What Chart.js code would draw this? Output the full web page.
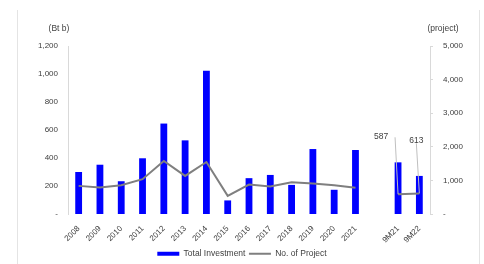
<!DOCTYPE html>
<html>
<head>
<meta charset="utf-8">
<script src="https://cdn.jsdelivr.net/npm/chart.js@4.4.1/dist/chart.umd.min.js"></script>
<style>
  html, body { margin: 0; padding: 0; background: #fff; }
  #wrap { position: relative; width: 484px; height: 264px; overflow: hidden; }
  .frame { position: absolute; top: 10px; bottom: 0; width: 1px; background: #e4e4e4; }
  #myChart { position: absolute; left: 0; top: 0; }
</style>
</head>
<body>
<div id="wrap">
  <div class="frame" style="left:17px"></div>
  <div class="frame" style="left:479px"></div>
  <canvas id="myChart" width="484" height="264"></canvas>
</div>
<script>
const periods = ['2008', '2009', '2010', '2011', '2012', '2013', '2014', '2015', '2016',
                 '2017', '2018', '2019', '2020', '2021', '', '9M21', '9M22'];
const investment = [300, 352, 234, 398, 646, 526, 1023, 97, 256,
                    279, 208, 464, 173, 457, null, 369, 272];
const projects = [837, 790, 858, 1036, 1577, 1133, 1547, 541, 875,
                  820, 947, 908, 858, 778, null, 587, 613];
const labelled = ['9M21', '9M22'];
const leftTicks = [0, 200, 400, 600, 800, 1000, 1200];
const rightTicks = [0, 1000, 2000, 3000, 4000, 5000];

const font = 'Liberation Sans';
const fmt = v => v === 0 ? '-' : v.toLocaleString('en-US');

// axis titles and the two leader-line labels
const extras = {
    id: 'extras',
    afterDatasetsDraw(chart) {
        const c = chart.ctx;
        const yL = chart.scales.y, yR = chart.scales.y1;
        c.save();
        c.fillStyle = '#404040';
        c.font = '8.5px "' + font + '"';
        c.textAlign = 'center';
        c.textBaseline = 'middle';
        c.fillText('(Bt b)', yL.right - 9, 29);
        c.fillText('(project)', yR.left + 13, 29);

        const meta = chart.getDatasetMeta(1);
        const offs = {'9M21': [-3, -57, -17, -58], '9M22': [-3, -50, -3, -53]};
        labelled.forEach(name => {
            const i = periods.indexOf(name);
            const p = meta.data[i];
            const o = offs[name];
            c.strokeStyle = '#bfbfbf';
            c.lineWidth = 1;
            c.beginPath();
            c.moveTo(p.x, p.y);
            c.lineTo(p.x + o[0], p.y + o[1]);
            c.stroke();
            c.fillStyle = '#404040';
            c.fillText(fmt(projects[i]), p.x + o[2], p.y + o[3]);
        });
        c.restore();
    }
};

const ctx = document.getElementById('myChart');
const myChart = new Chart(ctx, {
    type: 'bar',
    data: {
        labels: periods,
        datasets: [{
            label: 'Total Investment',
            data: investment,
            backgroundColor: '#0000ff',
            barPercentage: 0.32,
            categoryPercentage: 1,
            yAxisID: 'y',
            order: 1
        }, {
            type: 'line',
            label: 'No. of Project',
            data: projects,
            borderColor: '#7f7f7f',
            borderWidth: 2,
            pointRadius: 0,
            tension: 0,
            spanGaps: false,
            yAxisID: 'y1',
            order: 0
        }]
    },
    options: {
        responsive: false,
        animation: false,
        layout: { padding: { top: 46, left: 0, right: 0, bottom: -4 } },
        plugins: {
            tooltip: { enabled: false },
            legend: {
                position: 'bottom',
                labels: {
                    usePointStyle: true,
                    pointStyleWidth: 22,
                    boxHeight: 4,
                    padding: 3.5,
                    color: '#404040',
                    font: { family: font, size: 8.5 },
                    generateLabels: chart => chart.data.datasets.map((d, i) => ({
                        text: d.label,
                        fillStyle: i === 0 ? '#0000ff' : '#7f7f7f',
                        strokeStyle: i === 0 ? '#0000ff' : '#7f7f7f',
                        lineWidth: i === 0 ? 0 : 2,
                        pointStyle: i === 0 ? 'rect' : 'line',
                        fontColor: '#404040',
                        hidden: false,
                        datasetIndex: i
                    }))
                }
            }
        },
        scales: {
            x: {
                grid: { display: false },
                border: { display: false },
                afterFit: s => { s.height = 32; },
                ticks: {
                    autoSkip: false,
                    maxRotation: 45,
                    minRotation: 45,
                    padding: 2,
                    color: '#404040',
                    font: { family: font, size: 8 }
                }
            },
            y: {
                position: 'left',
                min: 0,
                max: 1200,
                afterFit: s => { s.width = 68; },
                afterBuildTicks: s => { s.ticks = leftTicks.map(v => ({ value: v })); },
                grid: { display: false, drawTicks: false },
                border: { display: true, color: '#d9d9d9' },
                ticks: {
                    padding: 10,
                    color: '#404040',
                    font: { family: font, size: 8 },
                    callback: v => fmt(v)
                }
            },
            y1: {
                position: 'right',
                min: 0,
                max: 5000,
                afterFit: s => { s.width = 54; },
                afterBuildTicks: s => { s.ticks = rightTicks.map(v => ({ value: v })); },
                grid: { drawOnChartArea: false, tickLength: 3, color: '#d9d9d9' },
                border: { display: true, color: '#d9d9d9' },
                ticks: {
                    padding: 10,
                    color: '#404040',
                    font: { family: font, size: 8 },
                    callback: v => fmt(v)
                }
            }
        }
    },
    plugins: [extras]
});
</script>
</body>
</html>
